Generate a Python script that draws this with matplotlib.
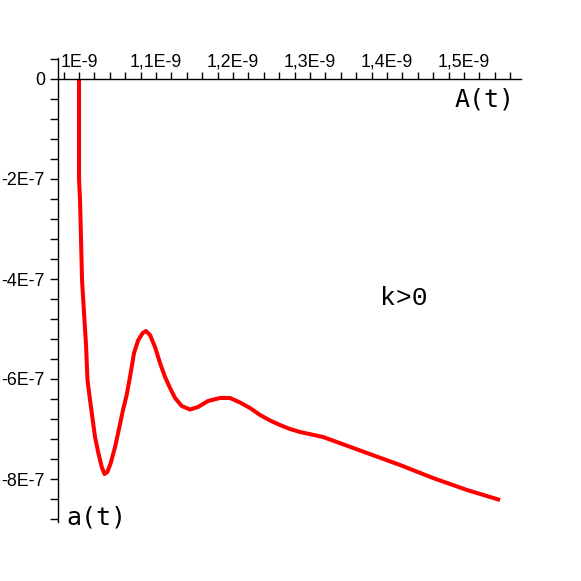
import numpy as np
import matplotlib.pyplot as plt

# curve: A in units of 1E-9, a in units of 1E-7
A_vals = [1.0, 1.0, 1.0013, 1.0026, 1.0039, 1.0065, 1.0091, 1.0110, 1.0143,
          1.0178, 1.0208, 1.0251, 1.0295, 1.0331, 1.0368, 1.0412, 1.0468,
          1.0519, 1.0571, 1.0619, 1.0671, 1.0714, 1.0770, 1.0827, 1.0870,
          1.0922, 1.0987, 1.1052, 1.1117, 1.1182, 1.1247, 1.1334, 1.1442,
          1.1545, 1.1675, 1.1831, 1.1961, 1.2091, 1.2221, 1.2351, 1.2481,
          1.2610, 1.2740, 1.2870, 1.3169, 1.3455, 1.3740, 1.4169, 1.4597,
          1.5039, 1.5468]
a_vals = [0.0, -2.0, -2.42, -3.2, -4.02, -4.68, -5.32, -6.02, -6.42,
          -6.82, -7.16, -7.48, -7.76, -7.90, -7.86, -7.68, -7.36,
          -7.00, -6.62, -6.32, -5.88, -5.48, -5.22, -5.08, -5.04,
          -5.12, -5.36, -5.68, -5.96, -6.18, -6.38, -6.54, -6.61,
          -6.56, -6.44, -6.38, -6.38, -6.47, -6.58, -6.72, -6.83,
          -6.92, -7.00, -7.06, -7.16, -7.32, -7.48, -7.72, -7.98,
          -8.22, -8.42]

x_ticks = [1.0, 1.1, 1.2, 1.3, 1.4, 1.5]
x_labels = ["1E-9", "1,1E-9", "1,2E-9", "1,3E-9", "1,4E-9", "1,5E-9"]
y_ticks = [0, -2, -4, -6, -8]
y_labels = ["0", "-2E-7", "-4E-7", "-6E-7", "-8E-7"]

A = np.array(A_vals) * 1e-9
a = np.array(a_vals) * 1e-7

W = 581
fig = plt.figure(figsize=(5.81, 5.81), dpi=100)
ax = fig.add_axes([58 / W, 1 - 522 / W, (521 - 58) / W, (522 - 58) / W])

ax.plot(A, a, color='#ff0000', lw=2.9, solid_capstyle='butt',
        solid_joinstyle='round', clip_on=False)

ax.set_xlim(0.9727e-9, 1.574e-9)
ax.set_ylim(-8.86e-7, 0.42e-7)

ax.spines['right'].set_visible(False)
ax.spines['bottom'].set_visible(False)
ax.spines['top'].set_position(('data', 0))
for s in ('top', 'left'):
    ax.spines[s].set_linewidth(1.0)

ax.xaxis.set_ticks_position('top')
ax.set_xticks(np.array(x_ticks) * 1e-9)
ax.set_xticklabels(x_labels)
ax.set_xticks(np.arange(0.98, 1.57, 0.02) * 1e-9, minor=True)
ax.set_yticks(np.array(y_ticks) * 1e-7)
ax.set_yticklabels(y_labels)
ax.set_yticks(np.arange(-8.8, 0.5, 0.4) * 1e-7, minor=True)

ax.tick_params(axis='x', which='both', direction='out', length=5, width=1, pad=1)
ax.tick_params(axis='y', which='both', direction='out', length=5.5, width=1, pad=4)
for lab in ax.get_xticklabels() + ax.get_yticklabels():
    lab.set_fontfamily(['Liberation Sans', 'DejaVu Sans'])
    lab.set_fontsize(12.8)

mono = ['DejaVu Sans Mono']
fig.text(515 / W, 1 - 99 / W, "A(t)", ha='right', va='center', family=mono, size=18)
fig.text(66 / W, 1 - 518 / W, "a(t)", ha='left', va='center', family=mono, size=18)
fig.text(404 / W, 1 - 298 / W, "k>0", ha='center', va='center',
         family=['Liberation Mono'], size=19)

fig.savefig("out.png", dpi=100)
